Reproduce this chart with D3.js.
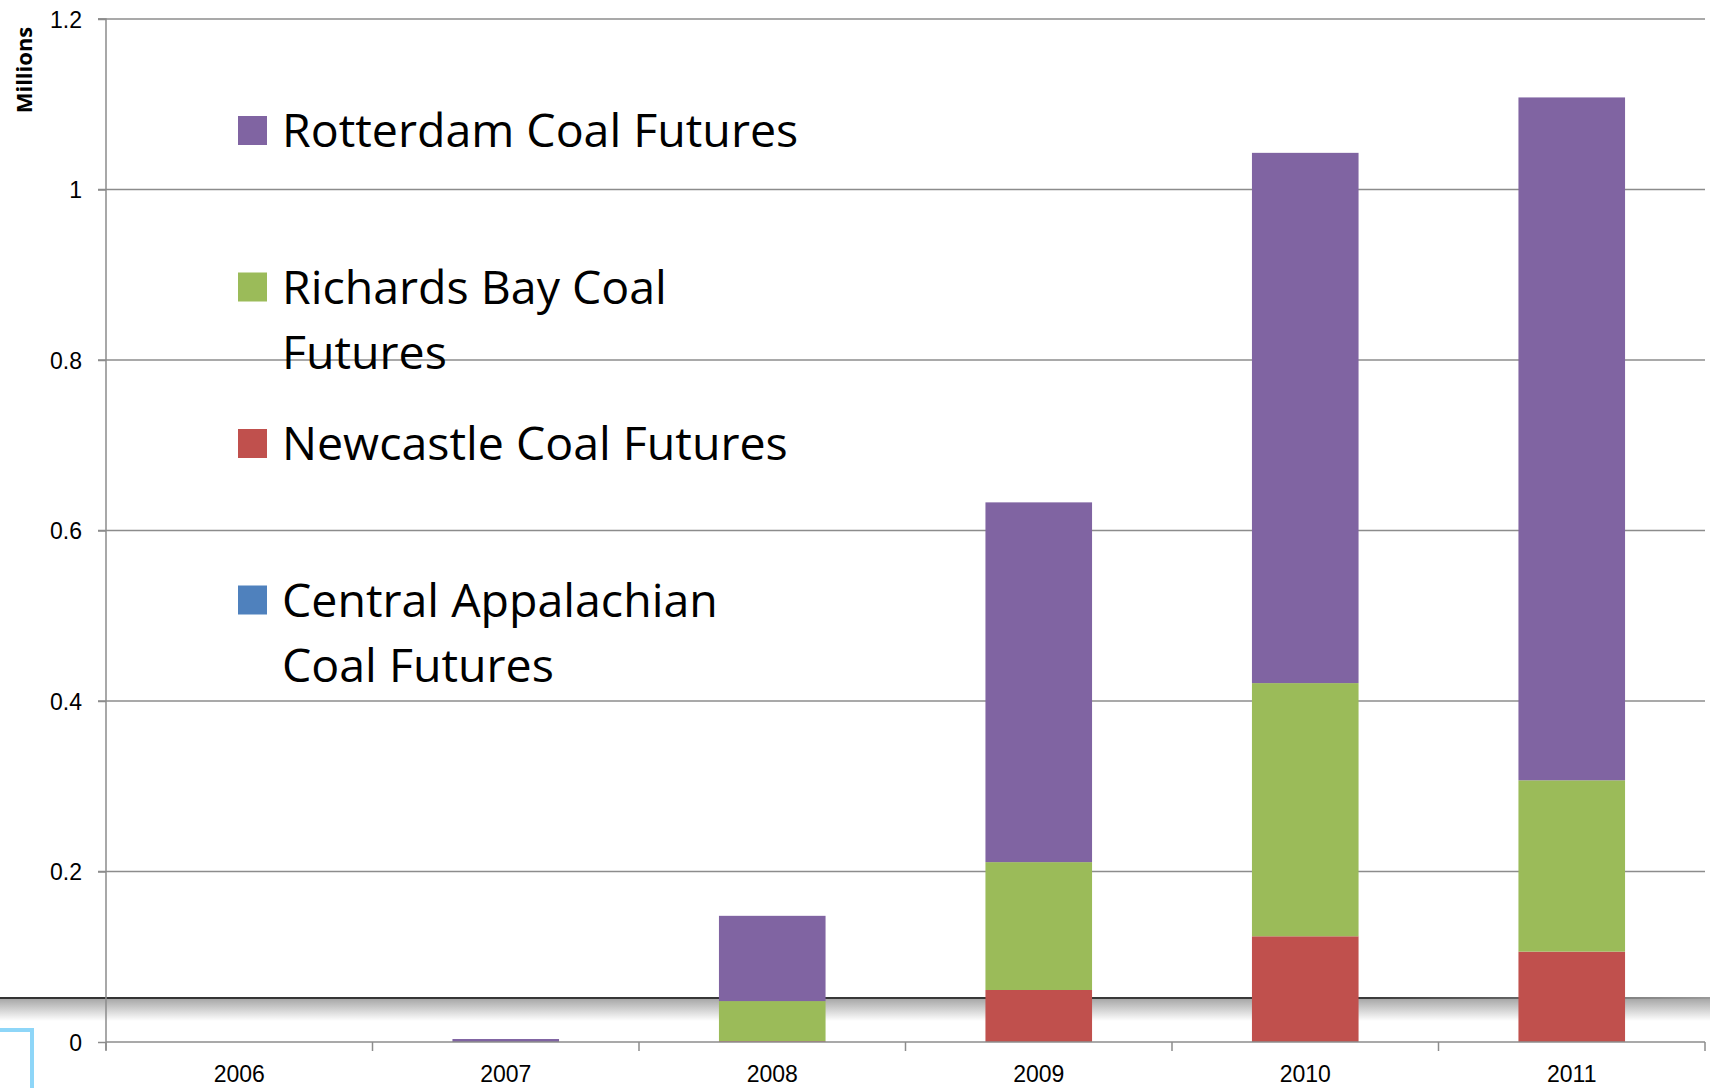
<!DOCTYPE html>
<html>
<head>
<meta charset="utf-8">
<script src="https://cdn.jsdelivr.net/npm/d3@7"></script>
<style>
  body { margin: 0; background: #fff; }
  svg { display: block; font-family: "Open Sans", Lato, sans-serif; }
</style>
</head>
<body>
<svg width="1710" height="1088"></svg>
<script>
// data (millions)
var years = ['2006', '2007', '2008', '2009', '2010', '2011'];
var centralApp = [0, 0, 0, 0, 0, 0];
var newcastle = [0, 0, 0.001, 0.061, 0.124, 0.106];
var richardsBay = [0, 0, 0.047, 0.150, 0.297, 0.201];
var rotterdam = [0, 0.0035, 0.100, 0.422, 0.622, 0.801];
var yTicks = [0, 0.2, 0.4, 0.6, 0.8, 1, 1.2];

var seriesKeys = ['central', 'newcastle', 'richards', 'rotterdam'];
var colors = ['#4f81bd', '#c0504d', '#9bbb59', '#8064a2'];

var rows = years.map(function(y, i) {
  return {year: y, central: centralApp[i], newcastle: newcastle[i], richards: richardsBay[i], rotterdam: rotterdam[i]};
});

const svg = d3.select('svg');
var plotLeft = 106, plotRight = 1705, plotTop = 19, plotBottom = 1042;

const xScale = d3.scaleBand().domain(years).range([plotLeft, plotRight]);
const yScale = d3.scaleLinear().domain([0, 1.2]).range([plotBottom, plotTop]);

// the odd shadow line behind the chart
var defs = svg.append('defs');
var grad = defs.append('linearGradient').attr('id', 'shade').attr('x1', 0).attr('y1', 0).attr('x2', 0).attr('y2', 1);
grad.append('stop').attr('offset', '0%').attr('stop-color', '#a8a8a8');
grad.append('stop').attr('offset', '100%').attr('stop-color', '#ffffff');
var lineGrad = defs.append('linearGradient').attr('id', 'lineFade').attr('x1', 0).attr('y1', 0).attr('x2', 1).attr('y2', 0);
lineGrad.append('stop').attr('offset', '0%').attr('stop-color', '#333');
lineGrad.append('stop').attr('offset', '80%').attr('stop-color', '#3a3a3a');
lineGrad.append('stop').attr('offset', '100%').attr('stop-color', '#999');

svg.append('rect').attr('x', 0).attr('y', 999).attr('width', 1710).attr('height', 22).attr('fill', 'url(#shade)');
svg.append('rect').attr('x', 0).attr('y', 997).attr('width', 1710).attr('height', 2).attr('fill', 'url(#lineFade)');

// blue corner mark bottom-left
svg.append('path').attr('d', 'M0,1030 L32,1030 L32,1088').attr('fill', 'none').attr('stroke', '#8ed6f8').attr('stroke-width', 4);

// gridlines
svg.append('g').selectAll('line').data(yTicks.slice(1)).enter().append('line')
  .attr('x1', plotLeft - 8).attr('x2', plotRight)
  .attr('y1', d => yScale(d)).attr('y2', d => yScale(d))
  .attr('stroke', '#8c8c8c').attr('stroke-width', 1.5);

// stacked bars
var stack = d3.stack().keys(seriesKeys)(rows);
var barW = xScale.bandwidth() * 0.4;
svg.append('g').selectAll('g').data(stack).enter().append('g')
  .attr('fill', (d, i) => colors[i])
  .selectAll('rect').data(d => d).enter().append('rect')
  .attr('x', d => xScale(d.data.year) + (xScale.bandwidth() - barW) / 2)
  .attr('width', barW)
  .attr('y', d => yScale(d[1]))
  .attr('height', d => yScale(d[0]) - yScale(d[1]));

// axes
const yAxis = d3.axisLeft(yScale).tickValues(yTicks).tickSize(8).tickFormat(d => d3.format('')(d));
const gy = svg.append('g').attr('transform', 'translate(' + plotLeft + ',0)').call(yAxis);
gy.select('.domain').attr('stroke', '#8c8c8c').attr('stroke-width', 1.5).attr('d', 'M-8,' + plotTop + 'H0V' + (plotBottom + 8));
gy.selectAll('.tick line').attr('stroke', '#8c8c8c').attr('stroke-width', 1.5);
gy.selectAll('.tick text').attr('font-size', 23).attr('fill', '#000').attr('x', -24).attr('dy', '0.35em');

const xAxis = d3.axisBottom(xScale).tickSize(0);
const gx = svg.append('g').attr('transform', 'translate(0,' + plotBottom + ')').call(xAxis);
gx.select('.domain').attr('stroke', '#8c8c8c').attr('stroke-width', 1.5).attr('d', 'M' + plotLeft + ',0H' + plotRight);
gx.selectAll('.tick text').attr('font-size', 23).attr('fill', '#000').attr('y', 24).attr('dy', '0.71em');
// ticks between categories
svg.append('g').selectAll('line').data(years.concat(['end'])).enter().append('line')
  .attr('x1', (d, i) => plotLeft + i * xScale.step()).attr('x2', (d, i) => plotLeft + i * xScale.step())
  .attr('y1', plotBottom).attr('y2', plotBottom + 9)
  .attr('stroke', '#8c8c8c').attr('stroke-width', 1.5);

// axis title
svg.append('text').attr('transform', 'translate(32,70) rotate(-90)')
  .attr('text-anchor', 'middle').attr('font-weight', 'bold').attr('font-size', 22)
  .text('Millions');

// legend (reversed so Rotterdam is on top)
var legendLines = [['Rotterdam Coal Futures'], ['Richards Bay Coal', 'Futures'], ['Newcastle Coal Futures'], ['Central Appalachian', 'Coal Futures']];
var legendColors = colors.slice().reverse();
const legend = svg.append('g');
legendLines.forEach(function(lines, i) {
  var base = 147 + i * 156.5;
  legend.append('rect').attr('x', 238).attr('y', base - 31).attr('width', 29).attr('height', 29).attr('fill', legendColors[i]);
  lines.forEach(function(t, j) {
    legend.append('text').attr('x', 282).attr('y', base + j * 65).attr('font-size', 46.5).text(t);
  });
});
</script>
</body>
</html>
